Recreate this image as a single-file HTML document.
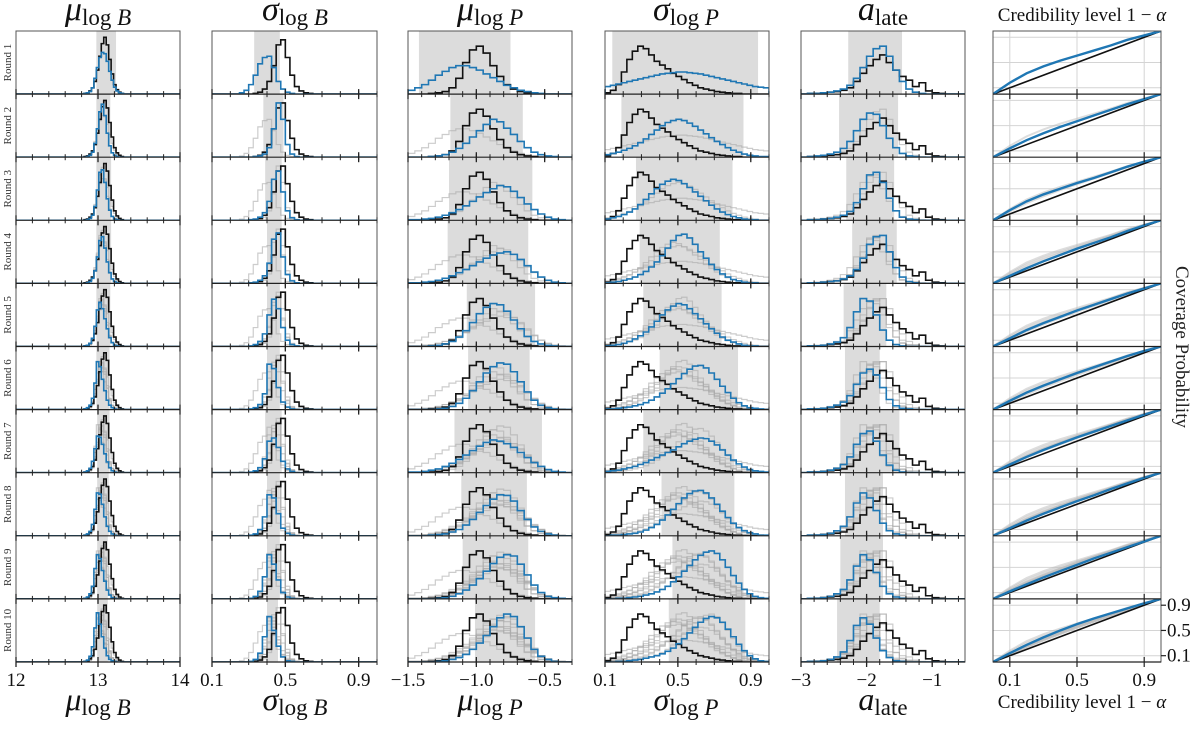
<!DOCTYPE html>
<html><head><meta charset="utf-8">
<style>
html,body{margin:0;padding:0;background:#fff;}
svg{display:block;font-family:"Liberation Serif",serif;}
</style></head>
<body>
<svg id="fig" width="1200" height="730" viewBox="0 0 1200 730" xmlns="http://www.w3.org/2000/svg"></svg>
<script>
// ---------- DATA ----------
const rounds = ["Round 1","Round 2","Round 3","Round 4","Round 5","Round 6","Round 7","Round 8","Round 9","Round 10"];
const colDomains = [[12,14],[0.1,1.0],[-1.5,-0.3],[0.1,1.0],[-3,-0.5]];
const binStart = [12.8,0.2,-1.5,0.1,-3];
const binWidth = [0.03,0.025,0.05,0.03,0.1];
const majorTicks = [[12,13,14],[0.1,0.5,0.9],[-1.5,-1.0,-0.5],[0.1,0.5,0.9],[-3,-2,-1]];
const tickLabels = [["12","13","14"],["0.1","0.5","0.9"],["\u22121.5","\u22121.0","\u22120.5"],["0.1","0.5","0.9"],["\u22123","\u22122","\u22121"]];
const minorStep = [0.2,0.1,0.1,0.1,0.2];

const bandLo = [
 [12.98,12.98,12.98,12.98,12.98,12.98,12.99,12.99,12.99,12.99],
 [0.33,0.38,0.39,0.4,0.4,0.4,0.39,0.4,0.4,0.4],
 [-1.42,-1.19,-1.2,-1.21,-1.07,-1.06,-1.16,-1.11,-1.1,-1.01],
 [0.14,0.19,0.27,0.29,0.31,0.4,0.31,0.41,0.47,0.45],
 [-2.28,-2.42,-2.31,-2.22,-2.35,-2.33,-2.4,-2.33,-2.4,-2.45]];
const bandHi = [
 [13.22,13.15,13.16,13.16,13.15,13.14,13.14,13.13,13.12,13.12],
 [0.47,0.49,0.48,0.48,0.47,0.47,0.48,0.47,0.47,0.46],
 [-0.75,-0.66,-0.59,-0.62,-0.57,-0.61,-0.52,-0.63,-0.62,-0.57],
 [0.94,0.86,0.8,0.73,0.74,0.83,0.81,0.81,0.86,0.87],
 [-1.46,-1.52,-1.58,-1.54,-1.7,-1.8,-1.5,-1.75,-1.75,-1.8]];

const black1 = [0,0.01,0.02,0.05,0.1,0.2,0.38,0.6,0.8,0.9,0.78,0.55,0.32,0.15,0.07,0.03,0.01,0,0,0];
const black2 = [0,0,0,0,0,0.01,0.03,0.08,0.2,0.45,0.78,0.86,0.58,0.3,0.12,0.05,0.02,0.01,0,0];
const black3 = [0,0,0,0.01,0.02,0.04,0.1,0.25,0.5,0.7,0.76,0.65,0.45,0.28,0.15,0.08,0.04,0.02,0.01,0,0,0,0,0];
const black4 = [0.02,0.06,0.15,0.35,0.55,0.68,0.76,0.72,0.62,0.52,0.46,0.4,0.33,0.28,0.23,0.18,0.14,0.1,0.08,0.06,0.04,0.03,0.02,0.01,0.01,0,0,0,0,0];
const black5 = [0,0.01,0.01,0.02,0.03,0.04,0.06,0.1,0.2,0.33,0.45,0.55,0.62,0.5,0.38,0.28,0.22,0.12,0.18,0.05,0.02,0.01,0,0,0];

const blue1 = [
 [0,0.01,0.02,0.04,0.1,0.25,0.42,0.58,0.66,0.64,0.52,0.36,0.22,0.11,0.05,0.02,0.01,0,0,0],
 [0,0,0.01,0.03,0.08,0.22,0.45,0.72,0.84,0.66,0.38,0.18,0.07,0.03,0.01,0,0,0,0,0],
 [0,0,0.01,0.03,0.08,0.22,0.48,0.76,0.8,0.6,0.34,0.16,0.06,0.02,0.01,0,0,0,0,0],
 [0,0,0.01,0.03,0.08,0.2,0.42,0.68,0.74,0.56,0.34,0.17,0.07,0.03,0.01,0,0,0,0,0],
 [0,0.01,0.02,0.05,0.13,0.32,0.58,0.7,0.6,0.44,0.28,0.14,0.06,0.02,0.01,0,0,0,0,0],
 [0,0.01,0.03,0.07,0.18,0.42,0.76,0.68,0.48,0.3,0.15,0.07,0.03,0.01,0,0,0,0,0,0],
 [0,0.01,0.03,0.07,0.18,0.38,0.58,0.56,0.45,0.3,0.17,0.08,0.03,0.01,0,0,0,0,0,0],
 [0,0.01,0.03,0.07,0.18,0.42,0.68,0.66,0.5,0.3,0.15,0.07,0.03,0.01,0,0,0,0,0,0],
 [0,0.01,0.03,0.08,0.2,0.48,0.7,0.64,0.45,0.28,0.14,0.06,0.02,0.01,0,0,0,0,0,0],
 [0,0.01,0.03,0.09,0.24,0.54,0.78,0.6,0.4,0.22,0.1,0.04,0.02,0.01,0,0,0,0,0,0]];
const blue2 = [
 [0,0,0.02,0.06,0.15,0.3,0.48,0.58,0.6,0.42,0.2,0.08,0.03,0.01,0,0,0,0,0,0],
 [0,0,0,0,0,0.01,0.02,0.05,0.15,0.45,0.86,0.6,0.2,0.05,0.01,0,0,0,0,0],
 [0,0,0,0,0.01,0.02,0.05,0.12,0.3,0.65,0.78,0.45,0.15,0.04,0.01,0,0,0,0,0],
 [0,0,0,0,0.01,0.02,0.05,0.12,0.32,0.7,0.8,0.42,0.14,0.04,0.01,0,0,0,0,0],
 [0,0,0,0,0.01,0.03,0.08,0.2,0.5,0.75,0.6,0.3,0.1,0.03,0.01,0,0,0,0,0],
 [0,0,0,0,0.01,0.03,0.08,0.25,0.72,0.65,0.35,0.12,0.04,0.01,0,0,0,0,0,0],
 [0,0,0,0,0.01,0.03,0.08,0.22,0.5,0.55,0.4,0.18,0.06,0.02,0,0,0,0,0,0],
 [0,0,0,0,0.01,0.03,0.1,0.3,0.65,0.6,0.35,0.12,0.04,0.01,0,0,0,0,0,0],
 [0,0,0,0,0.01,0.04,0.12,0.35,0.7,0.55,0.3,0.1,0.03,0.01,0,0,0,0,0,0],
 [0,0,0,0,0.01,0.04,0.14,0.4,0.72,0.5,0.25,0.08,0.02,0.01,0,0,0,0,0,0]];
const blue3 = [
 [0.06,0.1,0.15,0.22,0.3,0.36,0.42,0.45,0.45,0.42,0.38,0.32,0.26,0.2,0.14,0.1,0.06,0.04,0.02,0.01,0,0,0,0],
 [0,0,0,0.01,0.02,0.04,0.08,0.14,0.22,0.32,0.42,0.52,0.6,0.56,0.46,0.36,0.25,0.15,0.08,0.04,0.02,0.01,0,0],
 [0.01,0.01,0.02,0.03,0.05,0.08,0.12,0.17,0.23,0.3,0.37,0.44,0.5,0.55,0.53,0.46,0.36,0.26,0.17,0.1,0.05,0.02,0.01,0],
 [0.01,0.01,0.02,0.03,0.05,0.08,0.12,0.17,0.22,0.28,0.34,0.4,0.45,0.48,0.5,0.46,0.38,0.28,0.18,0.1,0.05,0.02,0.01,0],
 [0,0,0,0.01,0.02,0.04,0.08,0.15,0.25,0.38,0.52,0.62,0.68,0.66,0.56,0.42,0.28,0.16,0.08,0.04,0.02,0.01,0,0],
 [0,0,0,0,0.01,0.02,0.05,0.1,0.18,0.3,0.44,0.58,0.68,0.74,0.72,0.6,0.44,0.28,0.15,0.07,0.03,0.01,0,0],
 [0.01,0.01,0.02,0.04,0.06,0.1,0.15,0.21,0.28,0.35,0.42,0.48,0.52,0.5,0.46,0.4,0.32,0.24,0.16,0.1,0.05,0.02,0.01,0],
 [0,0,0,0.01,0.02,0.03,0.06,0.1,0.17,0.26,0.37,0.48,0.58,0.65,0.64,0.55,0.4,0.26,0.14,0.07,0.03,0.01,0,0],
 [0,0,0,0,0.01,0.02,0.04,0.08,0.14,0.22,0.32,0.44,0.56,0.66,0.7,0.68,0.55,0.38,0.22,0.1,0.04,0.02,0.01,0],
 [0,0,0,0,0.01,0.02,0.04,0.07,0.12,0.2,0.3,0.42,0.56,0.7,0.76,0.72,0.56,0.38,0.2,0.09,0.04,0.01,0,0]];
const blue4 = [
 [0.12,0.14,0.16,0.18,0.2,0.22,0.24,0.26,0.28,0.3,0.32,0.33,0.34,0.35,0.35,0.34,0.33,0.32,0.3,0.28,0.26,0.24,0.22,0.2,0.18,0.16,0.14,0.12,0.11,0.1],
 [0.04,0.06,0.08,0.11,0.14,0.18,0.23,0.29,0.36,0.43,0.5,0.55,0.58,0.6,0.58,0.54,0.49,0.43,0.37,0.31,0.25,0.2,0.15,0.11,0.08,0.05,0.03,0.02,0.01,0.01],
 [0.02,0.04,0.06,0.09,0.13,0.18,0.25,0.33,0.42,0.5,0.57,0.62,0.65,0.63,0.58,0.52,0.45,0.38,0.31,0.24,0.18,0.13,0.09,0.06,0.04,0.02,0.01,0.01,0,0],
 [0.01,0.02,0.03,0.05,0.07,0.1,0.14,0.19,0.26,0.34,0.44,0.56,0.68,0.76,0.78,0.72,0.62,0.5,0.4,0.3,0.22,0.15,0.1,0.06,0.04,0.02,0.01,0.01,0,0],
 [0.01,0.02,0.03,0.05,0.08,0.12,0.17,0.23,0.31,0.4,0.5,0.58,0.64,0.68,0.66,0.6,0.52,0.44,0.36,0.28,0.21,0.15,0.1,0.07,0.04,0.02,0.01,0.01,0,0],
 [0.01,0.01,0.02,0.03,0.04,0.06,0.08,0.11,0.15,0.2,0.26,0.33,0.41,0.49,0.57,0.64,0.69,0.7,0.66,0.58,0.48,0.37,0.27,0.18,0.11,0.06,0.03,0.02,0.01,0],
 [0.02,0.03,0.04,0.06,0.08,0.1,0.13,0.16,0.2,0.24,0.28,0.32,0.36,0.41,0.46,0.5,0.53,0.55,0.54,0.5,0.44,0.36,0.28,0.2,0.14,0.09,0.05,0.03,0.02,0.01],
 [0,0.01,0.01,0.02,0.03,0.04,0.06,0.09,0.13,0.18,0.25,0.33,0.42,0.51,0.6,0.67,0.71,0.72,0.68,0.6,0.5,0.39,0.29,0.2,0.13,0.08,0.05,0.03,0.01,0.01],
 [0,0,0.01,0.01,0.02,0.03,0.04,0.06,0.08,0.11,0.15,0.2,0.27,0.35,0.44,0.53,0.62,0.69,0.74,0.76,0.72,0.62,0.5,0.37,0.25,0.15,0.08,0.04,0.02,0.01],
 [0,0,0.01,0.01,0.02,0.03,0.04,0.06,0.08,0.1,0.13,0.17,0.22,0.29,0.37,0.46,0.55,0.63,0.69,0.72,0.7,0.63,0.52,0.4,0.28,0.18,0.1,0.05,0.02,0.01]];
const blue5 = [
 [0,0.01,0.01,0.02,0.03,0.05,0.08,0.14,0.25,0.42,0.6,0.72,0.76,0.6,0.38,0.2,0.08,0.03,0.01,0,0,0,0,0,0],
 [0,0.01,0.02,0.03,0.05,0.08,0.14,0.25,0.42,0.6,0.7,0.68,0.5,0.3,0.15,0.06,0.02,0.01,0,0,0,0,0,0,0],
 [0,0.01,0.01,0.02,0.03,0.05,0.08,0.14,0.28,0.5,0.72,0.76,0.6,0.35,0.15,0.05,0.02,0.01,0,0,0,0,0,0,0],
 [0,0.01,0.01,0.02,0.03,0.04,0.07,0.12,0.22,0.4,0.62,0.74,0.76,0.5,0.25,0.1,0.03,0.01,0,0,0,0,0,0,0],
 [0,0.01,0.01,0.02,0.04,0.07,0.14,0.3,0.55,0.76,0.72,0.5,0.26,0.1,0.03,0.01,0,0,0,0,0,0,0,0,0],
 [0,0.01,0.01,0.02,0.04,0.07,0.12,0.22,0.4,0.58,0.64,0.55,0.35,0.16,0.06,0.02,0.01,0,0,0,0,0,0,0,0],
 [0,0.01,0.01,0.02,0.04,0.07,0.13,0.25,0.45,0.62,0.66,0.5,0.28,0.12,0.04,0.01,0,0,0,0,0,0,0,0,0],
 [0,0.01,0.01,0.02,0.04,0.08,0.15,0.3,0.52,0.68,0.6,0.4,0.2,0.08,0.03,0.01,0,0,0,0,0,0,0,0,0],
 [0,0.01,0.01,0.02,0.04,0.08,0.15,0.3,0.52,0.7,0.62,0.42,0.2,0.08,0.03,0.01,0,0,0,0,0,0,0,0,0],
 [0,0.01,0.01,0.02,0.04,0.08,0.16,0.34,0.58,0.7,0.6,0.38,0.18,0.07,0.02,0.01,0,0,0,0,0,0,0,0,0]];

const credLevels = [0,0.1,0.2,0.3,0.4,0.5,0.6,0.7,0.8,0.9,1.0];
const coverage = [
 [0,0.18,0.33,0.44,0.53,0.61,0.69,0.77,0.86,0.93,1],
 [0,0.14,0.27,0.38,0.48,0.57,0.66,0.75,0.84,0.92,1],
 [0,0.16,0.3,0.41,0.5,0.59,0.67,0.76,0.85,0.93,1],
 [0,0.12,0.24,0.35,0.45,0.55,0.64,0.73,0.83,0.92,1],
 [0,0.13,0.26,0.37,0.47,0.57,0.66,0.75,0.84,0.92,1],
 [0,0.14,0.27,0.38,0.48,0.58,0.67,0.76,0.85,0.93,1],
 [0,0.13,0.25,0.36,0.46,0.56,0.65,0.74,0.83,0.92,1],
 [0,0.12,0.24,0.35,0.45,0.55,0.64,0.74,0.83,0.92,1],
 [0,0.12,0.23,0.34,0.44,0.54,0.64,0.73,0.82,0.91,1],
 [0,0.14,0.27,0.39,0.5,0.6,0.69,0.77,0.85,0.93,1]];
const covTicks = [0.1,0.5,0.9];
const covTickLabels = ["0.1","0.5","0.9"];

// ---------- LAYOUT ----------
const blacks = [black1,black2,black3,black4,black5];
const blues = [blue1,blue2,blue3,blue4,blue5];
const panelLeft = [16,212,408,605,801,993];
const panelW = [164,165,164,164,164,168];
const top0 = 31, bottom0 = 662, rowH = (bottom0-top0)/10;
const NS = "http://www.w3.org/2000/svg";
const svg = document.getElementById('fig');
function mk(tag, attrs, parent){
  const e = document.createElementNS(NS, tag);
  for (const k in attrs) e.setAttribute(k, attrs[k]);
  (parent||svg).appendChild(e);
  return e;
}
function xScale(c){ const [a,b]=colDomains[c]; return v => panelLeft[c] + (v-a)/(b-a)*panelW[c]; }
function yScale(r){ const base = top0 + (r+1)*rowH; return h => base - h*rowH; }
function histPath(c, r, arr){
  const X = xScale(c), Y = yScale(r);
  let d = "M" + panelLeft[c] + "," + Y(0).toFixed(2) + " H" + X(binStart[c]).toFixed(2);
  for (let i=0;i<arr.length;i++){
    d += " V" + Y(arr[i]).toFixed(2) + " H" + X(binStart[c]+binWidth[c]*(i+1)).toFixed(2);
  }
  d += " V" + Y(0).toFixed(2) + " H" + (panelLeft[c]+panelW[c]);
  return d;
}

const defs = mk('defs',{});
for (let c=0;c<6;c++){
  for (let r=0;r<10;r++){
    const cp = mk('clipPath',{id:'cp'+c+'_'+r},defs);
    mk('rect',{x:panelLeft[c],y:top0+r*rowH,width:panelW[c],height:rowH},cp);
  }
}

// histogram columns
for (let c=0;c<5;c++){
  const X = xScale(c);
  for (let r=0;r<10;r++){
    const g = mk('g',{'clip-path':'url(#cp'+c+'_'+r+')'});
    
    
    const yT = top0 + r*rowH;
    const band = mk('rect',{x:X(bandLo[c][r]),y:yT,width:X(bandHi[c][r])-X(bandLo[c][r]),height:rowH,fill:'#dcdcdc'},g);
    
    
    for (let p=0;p<r;p++){
      const gp = mk('path',{d:histPath(c,r,blues[c][p]),fill:'none',stroke:'#aaaaaa','stroke-opacity':0.6,'stroke-width':1.2},g);
      
      
    }
    const bp = mk('path',{d:histPath(c,r,blacks[c]),fill:'none',stroke:'#111','stroke-width':1.6},g);
    
    
    const up = mk('path',{d:histPath(c,r,blues[c][r]),fill:'none',stroke:'#1f77b4','stroke-width':1.6},g);
    
    
  }
}

// coverage column
{
  const c=5, L=panelLeft[c], W=panelW[c];
  const X = v => L + v*W;
  for (let r=0;r<10;r++){
    const Y = v => top0+(r+1)*rowH - v*rowH;
    const g = mk('g',{'clip-path':'url(#cp'+c+'_'+r+')'});
    
    
    for (const t of covTicks){
      mk('line',{x1:X(t),x2:X(t),y1:Y(0),y2:Y(1),stroke:'#d4d4d4','stroke-width':1},g);
      mk('line',{x1:L,x2:L+W,y1:Y(t),y2:Y(t),stroke:'#d4d4d4','stroke-width':1},g);
    }
    for (let p=0;p<r;p++){
      const pts = credLevels.map((v,i)=>X(v).toFixed(2)+','+Y(coverage[p][i]).toFixed(2)).join(' ');
      const gl = mk('polyline',{points:pts,fill:'none',stroke:'#bbbbbb','stroke-opacity':0.5,'stroke-width':2},g);
      
      
    }
    const dg = mk('line',{x1:X(0),y1:Y(0),x2:X(1),y2:Y(1),stroke:'#111','stroke-width':1.6},g);
    
    
    const pts = credLevels.map((v,i)=>X(v).toFixed(2)+','+Y(coverage[r][i]).toFixed(2)).join(' ');
    const bl = mk('polyline',{points:pts,fill:'none',stroke:'#1f77b4','stroke-width':2.4},g);
    
    
  }
}

// frames and ticks
for (let c=0;c<6;c++){
  const L=panelLeft[c], W=panelW[c];
  const fr = mk('rect',{x:L,y:top0,width:W,height:bottom0-top0,fill:'none',stroke:'#555','stroke-width':1});
  
  
  for (let r=0;r<10;r++){
    const yb = top0+(r+1)*rowH;
    mk('line',{x1:L,x2:L+W,y1:yb,y2:yb,stroke:'#222','stroke-width':1.2});
    if (c<5){
      const X = xScale(c); const [a,b]=colDomains[c];
      const first = Math.ceil(a/minorStep[c]-1e-9);
      for (let k=first; k*minorStep[c]<=b+1e-9; k++){
        const v=k*minorStep[c];
        mk('line',{x1:X(v),x2:X(v),y1:yb-3,y2:yb+3,stroke:'#222','stroke-width':1});
      }
      for (const t of majorTicks[c]) mk('line',{x1:X(t),x2:X(t),y1:yb-5,y2:yb+5,stroke:'#222','stroke-width':1.3});
    } else {
      for (const t of covTicks) mk('line',{x1:L+t*W,x2:L+t*W,y1:yb-5,y2:yb+5,stroke:'#222','stroke-width':1.2});
    }
  }
}

// tick labels
for (let c=0;c<5;c++){
  const X = xScale(c);
  majorTicks[c].forEach((t,i)=>{
    const tx = mk('text',{x:X(t),y:686,'font-size':19,'text-anchor':'middle',fill:'#111'});
    tx.textContent = tickLabels[c][i];
    
    
  });
}
covTicks.forEach((t,i)=>{
  const tx = mk('text',{x:panelLeft[5]+t*panelW[5],y:686,'font-size':19,'text-anchor':'middle',fill:'#111'});
  tx.textContent = covTickLabels[i];
  
  
  const yy = bottom0 - t*rowH;
  mk('line',{x1:panelLeft[5]+panelW[5],x2:panelLeft[5]+panelW[5]+5,y1:yy,y2:yy,stroke:'#222','stroke-width':1.2});
  const ty = mk('text',{x:1167,y:yy+6,'font-size':19,fill:'#111'});
  ty.textContent = covTickLabels[i];
  
  
});

// row labels
rounds.forEach((lab,r)=>{
  const cy = top0 + (r+0.5)*rowH;
  const t = mk('text',{x:0,y:0,'font-size':11,'text-anchor':'middle',fill:'#333',transform:'translate(11,'+cy+') rotate(-90)'});
  t.textContent = lab;
  
  
});
</script>
<script>
(function(){
  const NS="http://www.w3.org/2000/svg", svg=document.getElementById('fig');
  const titles = [
    {x:98, main:"\u03bc", sub:"log ", subI:"B"},
    {x:295, main:"\u03c3", sub:"log ", subI:"B"},
    {x:490, main:"\u03bc", sub:"log ", subI:"P"},
    {x:686, main:"\u03c3", sub:"log ", subI:"P"},
    {x:883, main:"a", sub:"late", subI:""}
  ];
  [[20,34,'column-title'],[710,32,'x-axis-title']].forEach(([yy,fs,nm])=>{
    titles.forEach(tt=>{
      const t=document.createElementNS(NS,'text');
      t.setAttribute('x',tt.x); t.setAttribute('y',yy);
      t.setAttribute('text-anchor','middle'); t.setAttribute('font-size',fs); t.setAttribute('fill','#111');
      
      
      const a=document.createElementNS(NS,'tspan'); a.setAttribute('font-style','italic'); a.textContent=tt.main; t.appendChild(a);
      const b=document.createElementNS(NS,'tspan'); b.setAttribute('font-size','23'); b.setAttribute('dy','5'); b.textContent=tt.sub; t.appendChild(b);
      if(tt.subI){const c=document.createElementNS(NS,'tspan'); c.setAttribute('font-size','23'); c.setAttribute('font-style','italic'); c.textContent=tt.subI; t.appendChild(c);}
      svg.appendChild(t);
    });
  });
  [[21,'credibility-title-top'],[708,'credibility-axis-title']].forEach(([yy,nm])=>{
    const t=document.createElementNS(NS,'text');
    t.setAttribute('x',1082); t.setAttribute('y',yy); t.setAttribute('text-anchor','middle');
    t.setAttribute('font-size','19'); t.setAttribute('fill','#111');
    
    
    t.textContent='Credibility level 1 \u2212 ';
    const a=document.createElementNS(NS,'tspan'); a.setAttribute('font-style','italic'); a.textContent='\u03b1'; t.appendChild(a);
    svg.appendChild(t);
  });
  const cv=document.createElementNS(NS,'text');
  cv.setAttribute('transform','translate(1176,347) rotate(90)');
  cv.setAttribute('text-anchor','middle'); cv.setAttribute('font-size','19'); cv.setAttribute('fill','#222');
  
  
  cv.textContent='Coverage Probability';
  svg.appendChild(cv);
})();
</script>
</body></html>
